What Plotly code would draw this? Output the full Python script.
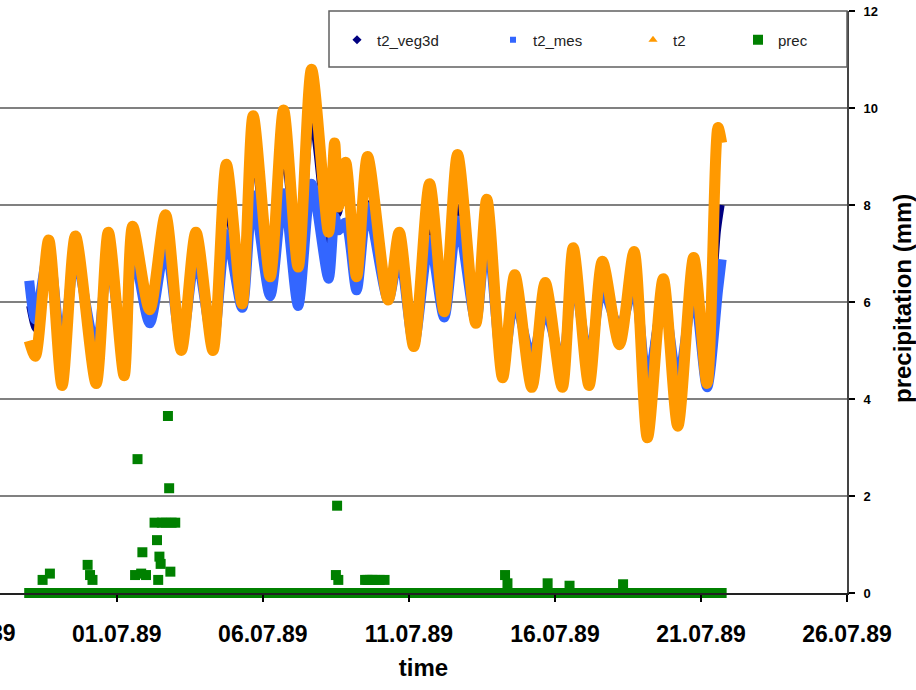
import plotly.graph_objects as go
import pandas as pd

# ---------------- data ----------------
t_times = [
    "1989-06-28 00:00", "1989-06-28 05:00", "1989-06-28 16:00", "1989-06-29 03:00",
    "1989-06-29 14:00", "1989-06-30 07:00", "1989-06-30 17:00", "1989-07-01 06:00",
    "1989-07-01 13:00", "1989-07-02 03:00", "1989-07-02 16:00", "1989-07-03 05:00",
    "1989-07-03 17:00", "1989-07-04 07:00", "1989-07-04 18:00", "1989-07-05 07:00",
    "1989-07-05 16:00", "1989-07-06 06:00", "1989-07-06 17:00", "1989-07-07 05:00",
    "1989-07-07 16:00", "1989-07-08 06:00", "1989-07-08 11:00", "1989-07-08 14:00",
    "1989-07-08 20:00", "1989-07-09 05:00", "1989-07-09 14:00", "1989-07-10 07:00",
    "1989-07-10 16:00", "1989-07-11 04:00", "1989-07-11 17:00", "1989-07-12 05:00",
    "1989-07-12 16:00", "1989-07-13 07:00", "1989-07-13 16:00", "1989-07-14 05:00",
    "1989-07-14 15:00", "1989-07-15 05:00", "1989-07-15 16:00", "1989-07-16 06:00",
    "1989-07-16 15:00", "1989-07-17 04:00", "1989-07-17 15:00", "1989-07-18 05:00",
    "1989-07-18 17:00", "1989-07-19 04:00", "1989-07-19 17:00", "1989-07-20 05:00",
    "1989-07-20 18:00", "1989-07-21 05:00", "1989-07-21 14:00", "1989-07-21 17:00",
]

t2 = [
    13.0, 12.2, 18.2, 10.7, 18.4, 10.8, 18.6, 11.2, 18.9, 14.6, 19.5, 12.5,
    18.6, 12.5, 22.1, 14.9, 24.6, 16.3, 24.9, 16.8, 27.0, 18.6, 23.2, 19.9,
    22.2, 16.3, 22.5, 15.1, 18.6, 12.7, 21.1, 14.5, 22.6, 13.9, 20.3, 11.1,
    16.4, 10.6, 16.0, 10.6, 17.8, 10.7, 17.1, 12.8, 17.6, 8.0, 16.2, 8.6,
    17.3, 10.8, 24.0, 23.2,
]

t2_mes = [
    16.1, 14.1, 17.6, 12.5, 17.3, 12.5, 17.4, 12.3, 17.7, 13.9, 17.9, 12.8,
    17.4, 12.9, 18.5, 14.7, 20.5, 15.3, 20.6, 14.8, 21.1, 16.2, 19.4, 18.7,
    19.1, 15.6, 19.9, 15.1, 17.5, 12.8, 18.2, 14.2, 19.2, 14.0, 18.6, 11.6,
    15.1, 12.1, 14.6, 11.8, 16.4, 12.0, 15.7, 13.6, 15.9, 10.7, 15.1, 10.9,
    15.6, 10.6, 15.6, 17.2,
]

t2_veg3d = [
    14.8, 13.6, 17.9, 12.4, 17.7, 12.2, 17.9, 12.4, 18.2, 14.9, 18.5, 13.3,
    17.9, 13.6, 19.7, 15.1, 22.5, 15.9, 22.6, 15.6, 24.3, 17.4, 21.3, 19.5,
    21.0, 15.9, 20.1, 15.1, 18.2, 12.8, 18.7, 14.3, 19.9, 14.1, 19.0, 11.8,
    15.6, 11.9, 15.1, 11.2, 16.9, 11.5, 16.4, 13.8, 16.8, 11.2, 15.9, 10.7,
    16.1, 12.5, 18.7, 20.0,
]

# hourly precipitation (mm); hours not listed read as 0
prec_start = "1989-06-28 00:00"
prec_end = "1989-07-21 17:00"
prec_nonzero_times = [
    "1989-06-28 11:00", "1989-06-28 17:00", "1989-06-30 00:00", "1989-06-30 02:00",
    "1989-06-30 04:00", "1989-07-01 15:00", "1989-07-01 17:00", "1989-07-01 20:00",
    "1989-07-01 21:00", "1989-07-02 00:00", "1989-07-02 07:00", "1989-07-02 09:00",
    "1989-07-02 10:00", "1989-07-02 11:00", "1989-07-02 12:00", "1989-07-02 13:00",
    "1989-07-02 16:00", "1989-07-02 18:00", "1989-07-02 19:00", "1989-07-02 20:00",
    "1989-07-02 21:00", "1989-07-03 00:00", "1989-07-08 12:00", "1989-07-08 13:00",
    "1989-07-08 14:00", "1989-07-09 12:00", "1989-07-09 14:00", "1989-07-09 16:00",
    "1989-07-09 18:00", "1989-07-09 20:00", "1989-07-10 00:00", "1989-07-10 04:00",
    "1989-07-14 07:00", "1989-07-14 09:00", "1989-07-15 18:00", "1989-07-16 12:00",
    "1989-07-18 08:00",
]
prec_nonzero_vals = [
    0.27, 0.40, 0.58, 0.37,
    0.27, 0.37, 2.76, 0.40,
    0.84, 0.37, 1.45, 1.09,
    0.27, 0.75, 0.60, 1.45,
    1.45, 3.65, 2.16, 0.44,
    1.45, 1.45, 0.37, 1.80,
    0.27, 0.27, 0.27, 0.27,
    0.27, 0.27, 0.27, 0.27,
    0.37, 0.20, 0.20, 0.15,
    0.18,
]

x_ticklabel_first = "26.06.89"

# ---------------- build ----------------
prec_index = pd.date_range(prec_start, prec_end, freq="h")
prec_series = pd.Series(0.0, index=prec_index)
for tt, vv in zip(prec_nonzero_times, prec_nonzero_vals):
    prec_series[pd.Timestamp(tt)] = vv

FONT = "Liberation Sans"
C_NAVY = "#000080"
C_BLUE = "#3366FF"
C_ORANGE = "#FF9900"
C_GREEN = "#008000"

fig = go.Figure()

line_kw = dict(shape="spline", smoothing=0.8)
fig.add_trace(go.Scatter(x=t_times, y=t2_veg3d, mode="lines", showlegend=False,
                         line=dict(color=C_NAVY, width=6, **line_kw), yaxis="y"))
fig.add_trace(go.Scatter(x=t_times, y=t2_mes, mode="lines", showlegend=False,
                         line=dict(color=C_BLUE, width=10, **line_kw), yaxis="y"))
fig.add_trace(go.Scatter(x=t_times, y=t2, mode="lines", showlegend=False,
                         line=dict(color=C_ORANGE, width=11, **line_kw), yaxis="y"))
fig.add_trace(go.Scatter(x=list(prec_series.index), y=list(prec_series.values),
                         mode="markers", name="prec", legend="legend4",
                         cliponaxis=False,
                         marker=dict(symbol="square", size=10, color=C_GREEN),
                         yaxis="y2"))

# legend-only entries (marker symbols like the original)
fig.add_trace(go.Scatter(x=[None], y=[None], mode="markers", name="t2_veg3d",
                         legend="legend",
                         marker=dict(symbol="diamond", size=7, color=C_NAVY)))
fig.add_trace(go.Scatter(x=[None], y=[None], mode="markers", name="t2_mes",
                         legend="legend2",
                         marker=dict(symbol="square", size=6, color=C_BLUE)))
fig.add_trace(go.Scatter(x=[None], y=[None], mode="markers", name="t2",
                         legend="legend3",
                         marker=dict(symbol="triangle-up", size=8, color=C_ORANGE)))

W = 847.0
H = 582.0
leg_font = dict(family=FONT, size=15, color="#222222")
def leg(xpx):
    return dict(x=xpx / W, y=(593 - 40) / H, xanchor="left", yanchor="middle",
                bgcolor="rgba(0,0,0,0)", borderwidth=0, font=leg_font,
                itemwidth=30)

fig.update_layout(
    width=916, height=690,
    margin=dict(l=0, r=69, t=11, b=97),
    paper_bgcolor="white", plot_bgcolor="white",
    font=dict(family=FONT, color="#000000"),
    legend=leg(337), legend2=leg(493), legend3=leg(633), legend4=leg(738),
    xaxis=dict(
        type="date", range=["1989-06-27", "1989-07-26"],
        tick0="1989-07-01", dtick=5 * 86400000, tickformat="%d.%m.%y",
        ticks="outside", ticklen=7, tickwidth=2, tickcolor="#000000",
        showline=True, linecolor="#222222", linewidth=2,
        showgrid=False, zeroline=False,
        tickfont=dict(family=FONT, size=23, color="#000000", weight="bold"),
        ticklabelstandoff=12,
        title=dict(text="time", font=dict(family=FONT, size=24, color="#000000", weight="bold"),
                   standoff=14),
    ),
    yaxis=dict(range=[0, 30], dtick=5, showgrid=True, gridcolor="#808080", gridwidth=2,
               showticklabels=False, ticks="", zeroline=False, showline=False),
    yaxis2=dict(range=[0, 12], dtick=2, overlaying="y", side="right",
                showgrid=False, zeroline=False, showline=True, linecolor="#444444",
                linewidth=2, ticks="outside", ticklen=6, tickwidth=2, tickcolor="#000000",
                tickfont=dict(family=FONT, size=13, color="#000000", weight="bold"),
                ticklabelstandoff=6),
    shapes=[
        dict(type="line", xref="paper", yref="y", x0=0, x1=1, y0=15, y1=15,
             line=dict(color="#b8b8b8", width=2), layer="between"),
        dict(type="rect", xref="paper", yref="paper", x0=329 / W, x1=1.0,
             y0=(593 - 67) / H, y1=1.0, fillcolor="white",
             line=dict(color="#606060", width=1.5), layer="above"),
    ],
    annotations=[
        dict(text="precipitation (mm)", xref="paper", yref="paper",
             x=902 / W, y=(593 - 298) / H, xanchor="center", yanchor="middle",
             textangle=-90, showarrow=False,
             font=dict(family=FONT, size=24, color="#000000", weight="bold")),
        dict(text=x_ticklabel_first, xref="paper", yref="paper",
             x=-29 / W, y=(593 - 633) / H, xanchor="center", yanchor="middle",
             showarrow=False,
             font=dict(family=FONT, size=23, color="#000000", weight="bold")),
    ],
)

fig.write_html("out.html")
